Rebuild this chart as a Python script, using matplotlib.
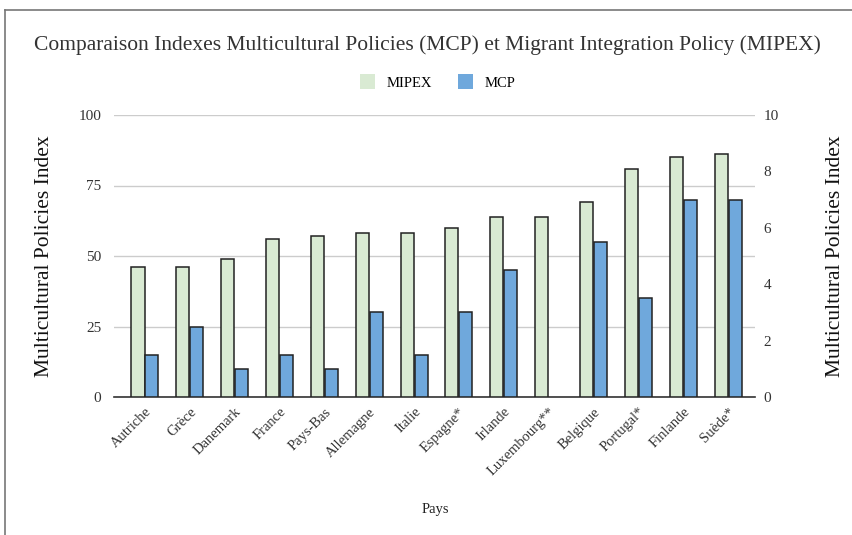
import numpy as np
import matplotlib.pyplot as plt
from matplotlib.patches import Patch
from matplotlib.lines import Line2D

plt.rcParams['font.family'] = ['Liberation Serif', 'DejaVu Serif']

pays = ['Autriche', 'Grèce', 'Danemark', 'France', 'Pays-Bas', 'Allemagne', 'Italie',
        'Espagne*', 'Irlande', 'Luxembourg**', 'Belgique', 'Portugal*', 'Finlande', 'Suède*']
mipex = [46, 46, 49, 56, 57, 58, 58, 60, 64, 64, 69, 81, 85, 86]
mcp = [1.5, 2.5, 1.0, 1.5, 1.0, 3.0, 1.5, 3.0, 4.5, 0, 5.5, 3.5, 7.0, 7.0]

green = '#d9ead3'
blue = '#6fa8dc'

fig = plt.figure(figsize=(8.53, 5.35), dpi=100)
ax = fig.add_axes([114/853, 1-397/535, 641/853, 282/535])
ax2 = ax.twinx()

x = np.arange(len(pays))
w = 0.29
ax.bar(x - 0.155, mipex, w, color=green, edgecolor='#222222', linewidth=1.1, zorder=3)
mcp_arr = np.array(mcp)
ax2.bar((x + 0.155)[mcp_arr > 0], mcp_arr[mcp_arr > 0], w, color=blue,
        edgecolor='#222222', linewidth=1.1, zorder=3)

ax.set_ylim(0, 100)
ax2.set_ylim(0, 10)
ax.set_xlim(-0.69, 13.6)
ax.set_yticks([0, 25, 50, 75, 100])
ax2.set_yticks([0, 2, 4, 6, 8, 10])
ax.yaxis.grid(True, color='#cccccc', linewidth=1, zorder=0)
ax.set_axisbelow(True)

for a in (ax, ax2):
    for s in a.spines.values():
        s.set_visible(False)
    a.tick_params(axis='y', length=0, labelsize=11, labelcolor='#333333')
ax.tick_params(axis='y', pad=9)
ax2.tick_params(axis='y', pad=6)
ax.spines['bottom'].set_visible(True)
ax.spines['bottom'].set_color('#333333')
ax.spines['bottom'].set_linewidth(1.2)

ax.set_xticks(x)
ax.set_xticklabels(pays, rotation=45, ha='right', rotation_mode='anchor',
                   fontsize=10.5, color='#333333')
ax.tick_params(axis='x', length=0, pad=6)

ax.set_ylabel('Multicultural Policies Index', fontsize=15.5, color='#111111', labelpad=18)
ax2.set_ylabel('Multicultural Policies Index', fontsize=15.5, color='#111111', labelpad=34)

fig.text(435/853, 1-510/535, 'Pays', ha='center', va='center', fontsize=10.5, color='#222222')
fig.text(427/853, 1-45/535,
         'Comparaison Indexes Multicultural Policies (MCP) et Migrant Integration Policy (MIPEX)',
         ha='center', va='center', fontsize=15.5, color='#333333')

handles = [Patch(facecolor=green, edgecolor='none'), Patch(facecolor=blue, edgecolor='none')]
fig.legend(handles, ['MIPEX', 'MCP'], loc='center', bbox_to_anchor=(438/853, 1-82/535),
           ncol=2, frameon=False, fontsize=10.5, handlelength=1.0, handleheight=1.2,
           columnspacing=1.8, handletextpad=0.8)

# cadre gris (bord gauche et haut)
fig.add_artist(Line2D([5/853, 5/853], [0, 1-10/535], color='#777777', linewidth=1.2))
fig.add_artist(Line2D([5/853, 1], [1-10/535, 1-10/535], color='#777777', linewidth=1.2))

fig.savefig('out.png', dpi=100)
